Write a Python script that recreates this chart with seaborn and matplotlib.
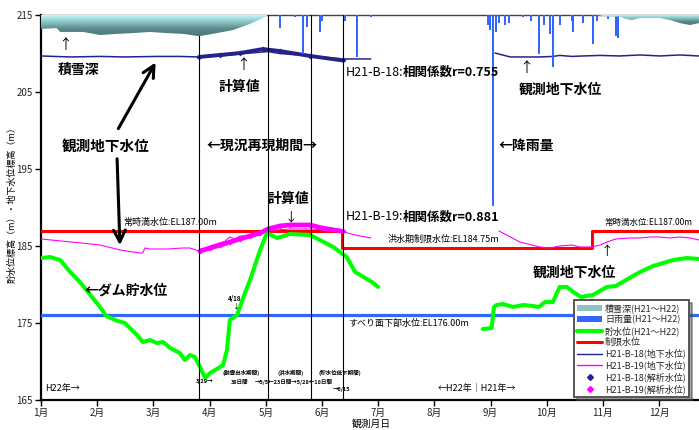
import numpy as np
import matplotlib
matplotlib.use('Agg')
import matplotlib.pyplot as plt
import seaborn as sns
from matplotlib.lines import Line2D
from matplotlib.patches import Patch
from matplotlib.colors import LinearSegmentedColormap

sns.set_theme(style='white')
plt.rcParams['font.family'] = ['Noto Sans CJK JP', 'DejaVu Sans']
plt.rcParams['axes.unicode_minus'] = False

# ---------------- data (x = month position, 0 = 1月1日) ----------------
month_labels = ['1月', '2月', '3月', '4月', '5月', '6月', '7月', '8月', '9月', '10月', '11月', '12月']
elev_ticks = [165, 175, 185, 195, 205, 215]

# snow depth (cm) – hangs from top
snow_x_a = [0.00, 0.28, 0.34, 0.75, 1.05, 1.35, 1.64, 1.94, 2.24, 2.53, 2.81, 3.13, 3.42, 3.72, 3.95, 4.04]
snow_a = [36, 34, 44, 44, 52, 49, 47, 44, 47, 49, 55, 47, 39, 23, 8, 0]
snow_x_b = [9.90, 10.05, 10.30, 10.40, 10.52, 10.66, 11.01, 11.19, 11.37, 11.55, 11.71]
snow_b = [0, 4, 4, 10, 13, 8, 8, 13, 21, 26, 21]

# daily rainfall (mm) – hangs from top
rain_x = [4.25, 4.52, 4.66, 4.73, 4.96, 5.00, 5.41, 5.62, 5.87, 7.95, 7.99, 8.04, 8.10, 8.15, 8.26,
          8.33, 8.58, 8.72, 8.86, 8.95, 9.06, 9.11, 9.23, 9.45, 9.47, 9.64, 9.82, 9.89, 10.09, 10.23, 10.27]
rain_mm = [7, 1, 20, 6, 9, 3, 3, 22, 1, 5, 8, 99, 9, 4, 5,
           4, 1, 3, 20, 5, 10, 27, 5, 3, 9, 4, 15, 3, 2, 11, 12]

# dam storage level (m)
storage_x_a = [0.00, 0.16, 0.34, 0.52, 0.69, 0.75, 1.05, 1.16, 1.35, 1.49, 1.71, 1.81, 1.94, 2.06, 2.17,
               2.30, 2.47, 2.56, 2.65, 2.74, 2.83, 2.92, 3.01, 3.19, 3.24, 3.31, 3.36, 3.49, 3.63, 3.72,
               3.90, 4.02, 4.20, 4.43, 4.79, 5.20, 5.44, 5.59, 5.89, 6.00]
storage_a = [183.44, 183.57, 183.18, 181.62, 180.32, 179.81, 177.08, 175.91, 175.3, 175.0, 173.44, 172.53,
             172.79, 172.40, 172.53, 171.75, 171.10, 170.19, 170.84, 170.58, 169.29, 167.86, 168.51,
             169.29, 169.55, 171.49, 175.39, 176.04, 178.90, 180.58, 184.48, 186.69, 186.04, 186.56,
             186.43, 184.87, 183.57, 181.62, 180.32, 179.68]
storage_x_b = [7.86, 8.02, 8.06, 8.11, 8.22, 8.40, 8.58, 8.75, 8.86, 8.97, 9.11, 9.23, 9.36, 9.47, 9.61,
               9.82, 10.07, 10.23, 10.41, 10.66, 10.89, 11.25, 11.49, 11.71]
storage_b = [174.22, 174.35, 177.08, 177.34, 177.47, 177.08, 177.34, 177.21, 177.08, 177.73, 177.73,
             179.68, 179.68, 179.03, 178.38, 178.64, 179.68, 179.81, 180.58, 181.62, 182.40, 183.18,
             183.44, 183.31]

# restricted water level (m)
limit_x = [0.00, 5.35, 5.35, 9.80, 9.80, 11.72]
limit_level = [187.00, 187.00, 184.75, 184.75, 187.00, 187.00]
slip_level = 176.00

# groundwater H21-B-18 observed / calculated
b18_x_a = [0.00, 0.52, 1.05, 1.49, 2.06, 2.47, 2.81, 3.19, 3.54, 3.93, 4.04, 4.25, 4.79, 5.37, 5.87]
b18_a = [209.68, 209.55, 209.62, 209.55, 209.62, 209.62, 209.55, 209.68, 209.94, 210.19, 210.25, 210.0,
         209.68, 209.29, 209.29]
b18_x_b = [8.08, 8.35, 8.88, 9.11, 9.23, 9.45, 9.64, 9.95, 10.30, 10.66, 11.01, 11.37, 11.71]
b18_b = [210.06, 209.55, 209.55, 209.62, 209.75, 209.62, 209.68, 209.75, 209.68, 209.81, 209.68, 209.81, 209.68]
b18c_x = [2.81, 3.19, 3.54, 3.95, 4.25, 4.79, 5.37]
b18c = [209.55, 209.81, 210.06, 210.58, 210.32, 209.68, 209.10]

# groundwater H21-B-19 observed / calculated
b19_x_a = [0.00, 0.50, 1.05, 1.41, 1.76, 1.81, 1.85, 1.94, 2.24, 2.53, 2.65, 2.81, 3.01, 3.27, 3.36,
           3.45, 3.54, 3.67, 3.81, 4.02, 4.43, 4.79, 5.32, 5.59, 5.87]
b19_a = [185.91, 185.55, 185.13, 184.48, 184.09, 184.09, 184.74, 184.61, 184.61, 184.74, 184.74, 184.35,
         185.0, 185.6, 186.17, 185.91, 186.3, 186.3, 186.43, 187.0, 187.21, 187.21, 186.95, 186.43, 186.04]
b19_x_b = [8.15, 8.52, 8.88, 9.06, 9.23, 9.45, 9.59, 9.80, 9.95, 10.07, 10.23, 10.48, 10.66, 10.84,
           11.01, 11.19, 11.37, 11.55, 11.71]
b19_b = [186.95, 185.52, 184.87, 184.74, 185.0, 185.13, 184.87, 184.87, 185.13, 185.52, 185.91, 186.04,
         186.04, 186.17, 186.17, 186.04, 186.17, 186.04, 185.78]
b19c_x = [2.83, 3.01, 3.19, 3.36, 3.54, 3.72, 3.90, 4.04, 4.25, 4.43, 4.79, 5.00, 5.37]
b19c = [184.35, 184.74, 185.13, 185.52, 185.91, 186.3, 186.69, 187.21, 187.6, 187.73, 187.73, 187.34, 186.9]

# period boundaries (month position)
period_bounds = [2.82, 4.04, 4.80, 5.38]

# ---------------- colours ----------------
C_NAVY = '#23238c'
C_MAG = '#ff00ff'
C_GREEN = '#00ff00'
C_RED = '#ff0000'
C_BLUE = '#3366ff'

W, H = 699, 430
fig = plt.figure(figsize=(W / 100, H / 100), dpi=100)
ax = fig.add_axes([41 / W, 30 / H, 658 / W, 385 / H])
XMAX = 11.71

# main series
sns.lineplot(x=limit_x, y=limit_level, ax=ax, color=C_RED, linewidth=2.2, estimator=None, sort=False, zorder=3)
ax.axhline(slip_level, color=C_BLUE, linewidth=2.3, zorder=3)
for xs, ys in [(storage_x_a, storage_a), (storage_x_b, storage_b)]:
    sns.lineplot(x=xs, y=ys, ax=ax, color=C_GREEN, linewidth=2.9, estimator=None, sort=False, zorder=4)
sns.lineplot(x=b19c_x, y=b19c, ax=ax, color=C_MAG, linewidth=3.4, marker='D', markersize=3,
             markeredgewidth=0, estimator=None, sort=False, zorder=4)
sns.lineplot(x=b18c_x, y=b18c, ax=ax, color=C_NAVY, linewidth=2.8, marker='D', markersize=3,
             markeredgewidth=0, estimator=None, sort=False, zorder=4)
for xs, ys in [(b19_x_a, b19_a), (b19_x_b, b19_b)]:
    sns.lineplot(x=xs, y=ys, ax=ax, color=C_MAG, linewidth=0.8, estimator=None, sort=False, zorder=5)
for xs, ys in [(b18_x_a, b18_a), (b18_x_b, b18_b)]:
    sns.lineplot(x=xs, y=ys, ax=ax, color=C_NAVY, linewidth=1.1, estimator=None, sort=False, zorder=5)
for xb in period_bounds:
    ax.axvline(xb, color='black', linewidth=0.8, zorder=6)

ax.set_xlim(0, XMAX)
ax.set_ylim(165, 215)
ax.set_yticks(elev_ticks)
ax.set_yticklabels([str(v) for v in elev_ticks])
ax.set_xticks(range(12))
ax.set_xticklabels(month_labels)
ax.tick_params(axis='both', direction='out', length=4, width=1, color='black', labelsize=7,
               pad=2, left=True, bottom=True, labelcolor='#222222')
ax.set_xlabel('')
ax.set_ylabel('')
for s in ['left', 'bottom']:
    ax.spines[s].set_color('black')
    ax.spines[s].set_linewidth(1.6)
ax.spines['top'].set_color('#444444')
ax.spines['top'].set_linewidth(1.0)
ax.spines['right'].set_visible(False)
ax.grid(False)

# rainfall twin axis
ax_rain = ax.twinx()
ax_rain.bar(rain_x, rain_mm, width=0.035, color=C_BLUE, linewidth=0, zorder=2)
ax_rain.set_ylim(200, 0)

# snow twin axis
ax_snow = ax.twinx()
snow_cmap = LinearSegmentedColormap.from_list('snow', ['#ccffff', '#8fc9c9', '#5a8c8c', '#4a7474'])
grad = np.linspace(0, 1, 256).reshape(-1, 1)
for sx, sd in [(snow_x_a, snow_a), (snow_x_b, snow_b)]:
    poly = ax_snow.fill_between(sx, 0, sd, facecolor='none', edgecolor='none')
    im = ax_snow.imshow(grad, extent=(sx[0], sx[-1], max(sd), 0), aspect='auto', cmap=snow_cmap,
                        interpolation='bilinear', zorder=1)
    im.set_clip_path(poly.get_paths()[0], transform=ax_snow.transData)
ax_snow.set_ylim(1000, 0)

for a in (ax_rain, ax_snow):
    a.set_xlim(0, XMAX)
    a.set_yticks([])
    a.grid(False)
    for s in a.spines.values():
        s.set_visible(False)

# ---------------- texts ----------------
def T(px, py, s, size=10, bold=False, ha='left', **kw):
    fig.text(px / W, 1 - py / H, s, fontsize=size, fontweight='bold' if bold else 'normal',
             ha=ha, va='center', color='black', **kw)

def ARROW(tail, head, lw=2.2):
    ax.annotate('', xy=(head[0], H - head[1]), xycoords='figure pixels',
                xytext=(tail[0], H - tail[1]), textcoords='figure pixels',
                arrowprops=dict(arrowstyle='->,head_length=0.7,head_width=0.35', lw=lw, color='black'))

T(12, 203, '貯水位標高（m）・地下水位標高（m）', size=6.5, ha='center', rotation=90)
T(371, 424, '観測月日', size=7, ha='center')

T(65, 45, '↑', size=10, ha='center')
T(79, 70, '積雪深', size=10, bold=True, ha='center')
T(243, 65, '↑', size=10, ha='center')
T(239, 87, '計算値', size=10, bold=True, ha='center')
T(106, 146, '観測地下水位', size=10.5, bold=True, ha='center')
ARROW((117, 131), (157, 60))
ARROW((117, 156), (120, 248))
T(262, 146, '←現況再現期間→', size=10, bold=True, ha='center')
T(288, 199, '計算値', size=10, bold=True, ha='center')
T(291, 217, '↓', size=9, ha='center')
T(123, 222, '常時満水位:EL187.00m', size=6.5)

T(346, 72, 'H21-B-18:', size=9)
T(403, 72, '相関係数r=0.755', size=9, bold=True)
T(560, 90, '観測地下水位', size=10, bold=True, ha='center')
T(526, 68, '↑', size=10, ha='center')
T(499, 146, '←降雨量', size=10, bold=True)
T(346, 217, 'H21-B-19:', size=9)
T(403, 217, '相関係数r=0.881', size=9, bold=True)
T(388, 239, '洪水期制限水位:EL184.75m', size=6.5)
T(604, 222, '常時満水位:EL187.00m', size=6.1)
T(607, 252, '↑', size=9, ha='center')
T(574, 273, '観測地下水位', size=10, bold=True, ha='center')

T(85, 291, '←ダム貯水位', size=10, bold=True)
T(235, 299, '4/18', size=4.5, bold=True, ha='center')
T(236, 307, '↓', size=5, ha='center')
T(348, 323, 'すべり面下部水位:EL176.00m', size=6.5)
T(45, 388, 'H22年→', size=6.5)
T(438, 388, '←H22年｜H21年→', size=6.5)

T(241, 373, '(融雪出水期間)', size=4, bold=True, ha='center')
T(205, 382, '3/29→', size=4, bold=True, ha='center')
T(240, 382, '38日間', size=4, bold=True, ha='center')
T(291, 373, '(洪水期間)', size=4, bold=True, ha='center')
T(255, 382, '→5/5←23日間→5/28←18日間', size=4, bold=True)
T(340, 373, '(貯水位低下期間)', size=4, bold=True, ha='center')
T(333, 389, '→6/15', size=4, bold=True)

# ---------------- legend ----------------
handles = [
    Patch(facecolor='#8fc3c3', edgecolor='none', label='積雪深(H21～H22)'),
    Patch(facecolor=C_BLUE, edgecolor='none', label='日雨量(H21～H22)'),
    Line2D([], [], color=C_GREEN, lw=3, label='貯水位(H21～H22)'),
    Line2D([], [], color=C_RED, lw=2.2, label='制限水位'),
    Line2D([], [], color=C_NAVY, lw=1, label='H21-B-18(地下水位)'),
    Line2D([], [], color=C_MAG, lw=1, label='H21-B-19(地下水位)'),
    Line2D([], [], color=C_NAVY, lw=0, marker='D', markersize=3, label='H21-B-18(解析水位)'),
    Line2D([], [], color=C_MAG, lw=0, marker='D', markersize=3, label='H21-B-19(解析水位)'),
]
leg = fig.legend(handles=handles, loc='upper left', bbox_to_anchor=(574 / W, 1 - 300 / H),
                 bbox_transform=fig.transFigure, fontsize=6.5, frameon=True, fancybox=False,
                 shadow=True, borderpad=0.35, labelspacing=0.22, handlelength=2.8,
                 handletextpad=0.3, borderaxespad=0)
leg.get_frame().set_edgecolor('#555555')
leg.get_frame().set_linewidth(1.4)
leg.get_frame().set_facecolor('white')
leg.set_zorder(20)

fig.savefig('out.png', dpi=100)
